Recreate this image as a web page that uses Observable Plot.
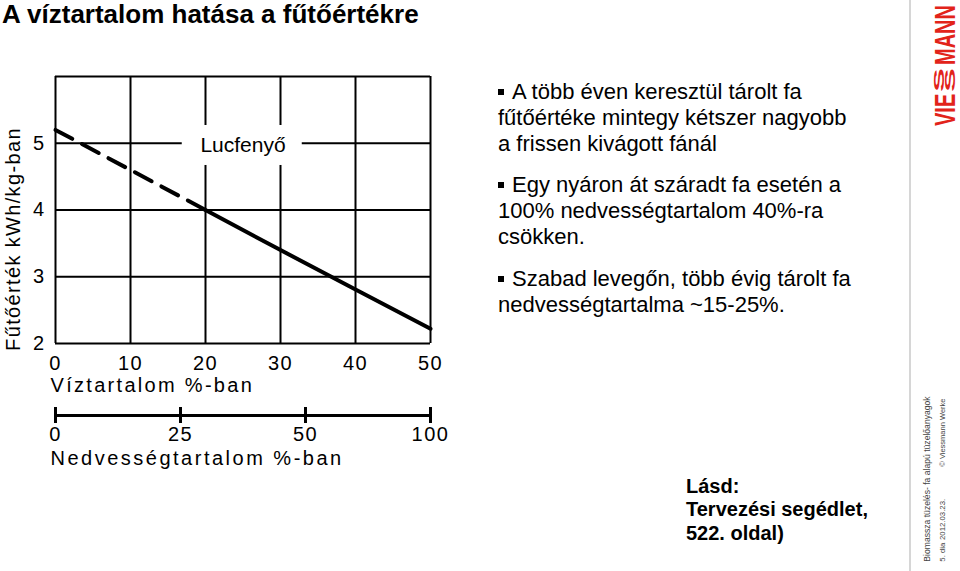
<!DOCTYPE html>
<html>
<head>
<meta charset="utf-8">
<script src="https://cdn.jsdelivr.net/npm/d3@7"></script>
<script src="https://cdn.jsdelivr.net/npm/@observablehq/plot@0.6"></script>
<style>
  html, body { margin: 0; padding: 0; background: #fff; }
  #page { position: relative; width: 960px; height: 571px; overflow: hidden; background: #fff;
          font-family: "Liberation Sans", Arial, Helvetica, sans-serif; color: #000; }
  .abs { position: absolute; white-space: nowrap; }
  #title { left: 2px; top: 1px; font-size: 26px; line-height: 26px; font-weight: bold; }
  .para { left: 498px; font-size: 22px; line-height: 26px; }
  .bullet { display: inline-block; width: 6px; height: 6px; background: #000; vertical-align: 4px; margin-right: 8px; }
  #see { left: 686px; top: 474.6px; font-size: 20px; line-height: 23.5px; font-weight: bold; }
  #sep { left: 909px; top: 0; width: 2px; height: 571px; background: #d6d6d6; }
  #chartMain { left: 0; top: 0; }
  #chartMoist { left: 0; top: 390px; }
  .chart svg { overflow: visible; }
  .chart g[aria-label$="tick label"] text { letter-spacing: 1.5px; }
  #deco { left: 0; top: 0; }
</style>
</head>
<body>
<div id="page">
  <div id="title" class="abs">A víztartalom hatása a fűtőértékre</div>

  <div class="abs chart" id="chartMain"></div>
  <div class="abs chart" id="chartMoist"></div>

  <div class="abs para" style="top:79.4px"><span class="bullet"></span>A több éven keresztül tárolt fa<br>fűtőértéke mintegy kétszer nagyobb<br>a frissen kivágott fánál</div>
  <div class="abs para" style="top:172.4px"><span class="bullet"></span>Egy nyáron át száradt fa esetén a<br>100% nedvességtartalom 40%-ra<br>csökken.</div>
  <div class="abs para" style="top:266.4px"><span class="bullet"></span>Szabad levegőn, több évig tárolt fa<br>nedvességtartalma ~15-25%.</div>

  <div id="see" class="abs">Lásd:<br>Tervezési segédlet,<br>522. oldal)</div>

  <div id="sep" class="abs"></div>

  <svg id="deco" class="abs" width="960" height="571" style="pointer-events:none">
    <g fill="#e2231a" font-family="Liberation Sans, Arial, sans-serif" font-weight="bold">
      <text transform="translate(955,126) rotate(-90) scale(1,1.5)" font-size="20">VIE</text>
      <text transform="translate(955,92) rotate(-90) scale(2.55,1)" font-size="14">S</text>
      <text transform="translate(944,92) rotate(-90) scale(2.55,1)" font-size="14">S</text>
      <text transform="translate(955,65) rotate(-90) scale(1,1.5)" font-size="20">MANN</text>
    </g>
    <g font-family="Liberation Sans, Arial, sans-serif" fill="#444">
      <text transform="translate(930,561.7) rotate(-90)" font-size="8.6">Biomassza tüzelés- fa alapú tüzelőanyagok</text>
      <text transform="translate(945,561.7) rotate(-90)" font-size="7.8">5. dia</text>
      <text transform="translate(945,540) rotate(-90)" font-size="7.8">2012.03.23.</text>
      <text transform="translate(945,466.7) rotate(-90)" font-size="7.5">© Viessmann Werke</text>
    </g>
  </svg>
</div>

<script>
// ---- data ----
const waterContent = [0, 10, 20, 30, 40, 50];          // Víztartalom %
const heatingValue = [5.2, 4.6, 4.0, 3.4, 2.81, 2.22];  // kWh/kg
const dashedUpTo = 20;                                  // dashed part of the curve ends at 20 %
const xTickValues = [0, 10, 20, 30, 40, 50];
const yTickValues = [2, 3, 4, 5];
const yGridValues = [2, 3, 4, 5, 6];
const moistureTicks = ["0", "25", "50", "100"];         // Nedvességtartalom %
const speciesLabel = "Lucfenyő";
const xTitle = "Víztartalom %-ban";
const yTitle = "Fűtőérték kWh/kg-ban";
const moistureTitle = "Nedvességtartalom %-ban";

const rows = waterContent.map((w, i) => ({w, h: heatingValue[i]}));
const labelAt = [{x: 25, y: 5, text: speciesLabel}];

const font = "'Liberation Sans', Arial, Helvetica, sans-serif";

function spacing(svg, text, px) {
  svg.querySelectorAll("text").forEach(t => { if (t.textContent === text) t.style.letterSpacing = px; });
}

const main = Plot.plot({
  width: 480, height: 400,
  marginLeft: 55, marginRight: 50, marginTop: 76, marginBottom: 57,
  style: {fontFamily: font, fontSize: "20px", color: "#000", background: "transparent", overflow: "visible"},
  x: {domain: [0, 50], label: null},
  y: {domain: [2, 6], label: null},
  marks: [
    Plot.ruleX(xTickValues, {stroke: "#000", strokeWidth: 2}),
    Plot.ruleY(yGridValues, {stroke: "#000", strokeWidth: 2}),
    Plot.rect(labelAt, {x1: d => d.x - 8.1, x2: d => d.x + 7.9, y1: d => d.y - 0.333, y2: d => d.y + 0.266, fill: "#fff"}),
    Plot.line(rows.filter(d => d.w <= dashedUpTo), {x: "w", y: "h", stroke: "#000", strokeWidth: 4, strokeDasharray: "19,11"}),
    Plot.line(rows.filter(d => d.w >= dashedUpTo), {x: "w", y: "h", stroke: "#000", strokeWidth: 4}),
    Plot.text(labelAt, {x: "x", y: "y", text: "text", fontSize: 21, dy: 2, fill: "#000"}),
    Plot.axisX(xTickValues, {tickSize: 0, tickPadding: 12, fontSize: 20, label: null, tickFormat: d => String(d)}),
    Plot.axisY(yTickValues, {tickSize: 0, tickPadding: 10, fontSize: 20, label: null, tickFormat: d => String(d)}),
    Plot.text([xTitle], {text: d => d, frameAnchor: "bottom-left", textAnchor: "start", lineAnchor: "middle", dx: -5, dy: 42, fontSize: 20, fill: "#000"}),
    Plot.text([yTitle], {text: d => d, frameAnchor: "left", textAnchor: "middle", lineAnchor: "middle", rotate: -90, dx: -42, dy: 29, fontSize: 20, fill: "#000"})
  ]
});
spacing(main, xTitle, "2.3px");
spacing(main, yTitle, "1.35px");
document.getElementById("chartMain").appendChild(main);

const moist = Plot.plot({
  width: 480, height: 90,
  marginLeft: 55, marginRight: 50, marginTop: 17, marginBottom: 57,
  style: {fontFamily: font, fontSize: "20px", color: "#000", background: "transparent", overflow: "visible"},
  x: {type: "point", domain: moistureTicks, padding: 0, label: null},
  y: {domain: [0, 1], axis: null},
  marks: [
    Plot.ruleY([0.5], {stroke: "#000", strokeWidth: 3}),
    Plot.tickX(moistureTicks, {x: d => d, stroke: "#000", strokeWidth: 3}),
    Plot.axisX({tickSize: 0, tickPadding: 3.5, fontSize: 20, label: null}),
    Plot.text([moistureTitle], {text: d => d, frameAnchor: "bottom-left", textAnchor: "start", lineAnchor: "middle", dx: -5, dy: 34.6, fontSize: 20, fill: "#000"})
  ]
});
spacing(moist, moistureTitle, "2.5px");
document.getElementById("chartMoist").appendChild(moist);
</script>
</body>
</html>
